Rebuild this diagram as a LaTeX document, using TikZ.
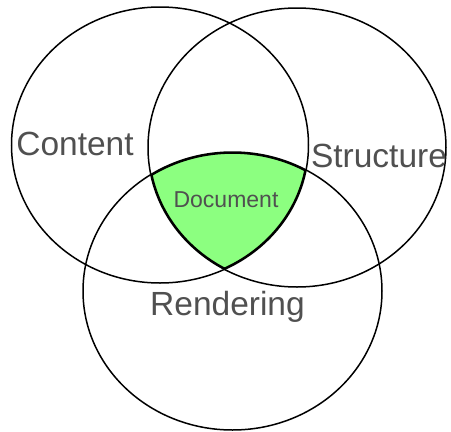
\documentclass[tikz,border=0pt]{standalone}
\usepackage{fontspec}
\setmainfont{Liberation Sans}
\definecolor{docgreen}{RGB}{140,255,128}
\definecolor{labelgray}{RGB}{80,80,80}
\begin{document}
\begin{tikzpicture}[x=1pt,y=-1pt,
  ring/.style={draw=black,line width=1.5pt},
  biglabel/.style={text=labelgray,font=\fontsize{33.5}{36}\selectfont,inner sep=0pt},
  smalllabel/.style={text=labelgray,font=\fontsize{23}{26}\selectfont,inner sep=0pt}]
\useasboundingbox (0,0) rectangle (451,432);
% shared region of the three sets
\begin{scope}
  \clip (160,145) ellipse [x radius=148.5, y radius=138];
  \clip (297,147.5) ellipse [x radius=149, y radius=139.5];
  \clip (232.5,291) ellipse [x radius=149.5, y radius=139];
  \fill[docgreen] (0,0) rectangle (451,432);
  \draw[line width=3.6pt] (160,145) ellipse [x radius=148.5, y radius=138];
  \draw[line width=3.6pt] (297,147.5) ellipse [x radius=149, y radius=139.5];
  \draw[line width=3.6pt] (232.5,291) ellipse [x radius=149.5, y radius=139];
\end{scope}
% the three sets
\draw[ring] (160,145) ellipse [x radius=148.5, y radius=138];
\draw[ring] (297,147.5) ellipse [x radius=149, y radius=139.5];
\draw[ring] (232.5,291) ellipse [x radius=149.5, y radius=139];
% labels
\node[biglabel,anchor=base] (content) at (75,155) {Content};
\node[biglabel,anchor=base] (structure) at (379,167) {Structure};
\node[biglabel,anchor=base] (rendering) at (227.5,315) {Rendering};
\node[smalllabel,anchor=base] (document) at (226,207) {Document};
\end{tikzpicture}
\end{document}
